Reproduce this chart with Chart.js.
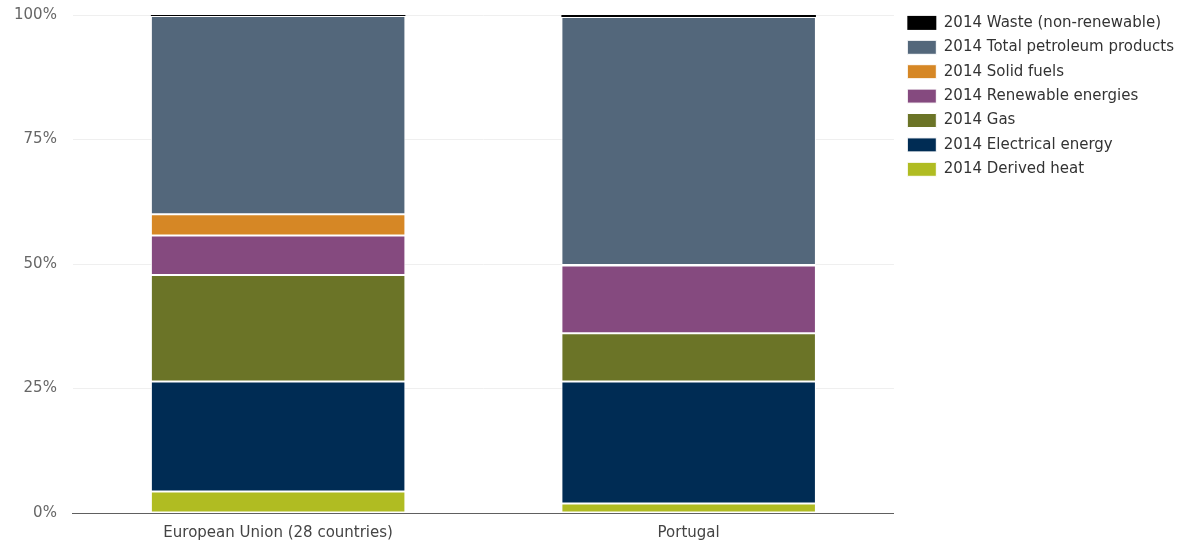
<!DOCTYPE html>
<html>
<head>
<meta charset="utf-8">
<script src="https://cdn.jsdelivr.net/npm/chart.js@4/dist/chart.umd.min.js"></script>
<style>
  html, body { margin: 0; padding: 0; background: #fff; }
  .chart-wrap { width: 1189px; height: 544px; position: relative; }
</style>
</head>
<body>
<div class="chart-wrap"><canvas id="chart"></canvas></div>
<script>
const categories = ['European Union (28 countries)', 'Portugal']
const yTicks = [0, 25, 50, 75, 100]

// shares of final energy consumption, %
const derivedHeat = [4.3, 1.9]
const electricalEnergy = [22.1, 24.5]
const gas = [21.4, 9.7]
const renewableEnergies = [7.9, 13.6]
const solidFuels = [4.3, 0.1]
const petroleumProducts = [39.8, 49.8]
const waste = [0.2, 0.4]

const series = [
  { label: '2014 Derived heat', data: derivedHeat, color: '#b0bc22' },
  { label: '2014 Electrical energy', data: electricalEnergy, color: '#002c54' },
  { label: '2014 Gas', data: gas, color: '#6b7427' },
  { label: '2014 Renewable energies', data: renewableEnergies, color: '#854a7f' },
  { label: '2014 Solid fuels', data: solidFuels, color: '#d68725' },
  { label: '2014 Total petroleum products', data: petroleumProducts, color: '#53677b' },
  // thin sliver on top, no white edge or it disappears
  { label: '2014 Waste (non-renewable)', data: waste, color: '#000000', border: 0 },
]

const FONT = "'DejaVu Sans', Verdana, sans-serif"
const LEGEND_GAP = 4

// leave a little air between the plot and the legend column
const legendGap = {
  id: 'legendGap',
  beforeInit(chart) {
    const fit = chart.legend.fit
    chart.legend.fit = function () {
      fit.call(this)
      this.width += LEGEND_GAP
    }
  },
  afterLayout(chart) {
    chart.legend.left += LEGEND_GAP
  },
}

new Chart(document.getElementById('chart'), {
  type: 'bar',
  data: {
    labels: categories,
    datasets: series.map((s) => ({
      label: s.label,
      data: s.data,
      backgroundColor: s.color,
      borderColor: '#ffffff',
      borderWidth: s.border ?? 1,
      borderSkipped: false,
      barPercentage: 0.62,
      categoryPercentage: 1,
    })),
  },
  options: {
    responsive: true,
    maintainAspectRatio: false,
    animation: false,
    layout: { padding: { top: 6, left: 14, right: 5, bottom: 0 } },
    plugins: {
      tooltip: { enabled: false },
      legend: {
        position: 'right',
        align: 'start',
        reverse: true,
        labels: {
          boxWidth: 29,
          boxHeight: 14,
          padding: 9.4,
          color: '#333333',
          font: { family: FONT, size: 15 },
        },
      },
    },
    scales: {
      x: {
        stacked: true,
        grid: { display: false, drawTicks: false },
        border: { display: true, color: '#606060', width: 1 },
        ticks: {
          color: '#444444',
          padding: 11,
          font: { family: FONT, size: 15 },
        },
        afterFit(scale) {
          scale.height = 31
        },
      },
      y: {
        stacked: true,
        min: 0,
        max: 100,
        afterBuildTicks(axis) {
          axis.ticks = yTicks.map((v) => ({ value: v }))
        },
        afterFit(scale) {
          scale.paddingTop = 15
        },
        // tick marks kept invisible, only used to push the labels off the plot
        grid: { color: '#efefef', drawTicks: true, tickLength: 16, tickColor: 'rgba(0,0,0,0)' },
        border: { display: false },
        ticks: {
          color: '#666666',
          padding: 0,
          font: { family: FONT, size: 15 },
          callback: (v) => v + '%',
        },
      },
    },
  },
  plugins: [legendGap],
})
</script>
</body>
</html>
